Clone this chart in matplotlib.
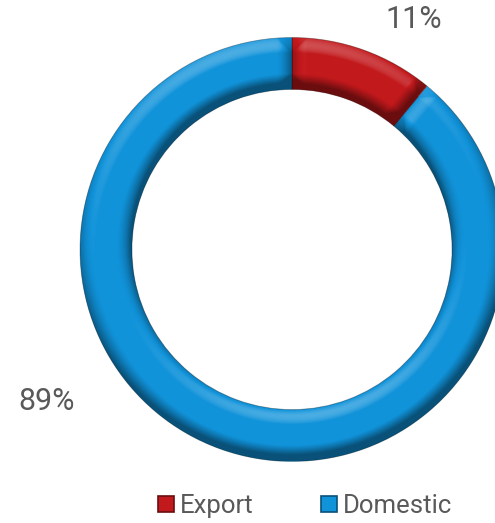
import matplotlib
matplotlib.use("Agg")
import matplotlib.pyplot as plt
import numpy as np
from matplotlib.patches import Patch, Wedge

categories = ["Export", "Domestic"]
values = [11, 89]
labels = ["11%", "89%"]
base_colors = ["#c2191c", "#1193da"]

plt.rcParams['font.family'] = ['Roboto', 'DejaVu Sans']

W, H = 495, 523
fig = plt.figure(figsize=(W / 100, H / 100), dpi=100)
fig.patch.set_facecolor("white")

cx, cy, R = 292, 249.5, 212
ax = fig.add_axes([(cx - R) / W, (H - cy - R) / H, 2 * R / W, 2 * R / H])

r_in = 0.755
r_out = 1.0

wedges, _ = ax.pie(values, radius=r_out, startangle=90, counterclock=False,
                   colors=base_colors,
                   wedgeprops=dict(width=r_out - r_in, linewidth=0.6,
                                   edgecolor=(0, 0, 0, 0.3)))

# ---- bevel / lighting overlay (decoration only) ----
n = 900
g = np.linspace(-1, 1, n)
X, Y = np.meshgrid(g, g[::-1])
Rr = np.hypot(X, Y)
TH = np.arctan2(Y, X)
wid = r_out - r_in
t = (Rr - r_in) / wid
ring = (t >= -0.02) & (t <= 1.02)

e = 0.30  # fraction of ring width that is rounded
nr = np.zeros_like(t)
zo = t > 1 - e
phi_o = np.clip((t - (1 - e)) / e, 0, 1) * (np.pi / 2)
nr = np.where(zo, np.sin(phi_o), nr)
zi = t < e
phi_i = np.clip((e - t) / e, 0, 1) * (np.pi / 2)
nr = np.where(zi, -np.sin(phi_i), nr)

# tangential bevel at slice ends (boundaries from the data)
fr = np.cumsum([0] + values) / float(sum(values))
cw = np.mod(90 - np.degrees(TH), 360)  # clockwise angle from 12 o'clock
nt = np.zeros_like(t)
e_arc = e * wid
for k in range(len(values)):
    a0, a1 = 360 * fr[k], 360 * fr[k + 1]
    inside = (cw >= a0) & (cw < a1)
    d0 = np.radians(cw - a0) * Rr
    d1 = np.radians(a1 - cw) * Rr
    s0 = np.where(inside & (d0 < e_arc), -np.sin((1 - d0 / e_arc) * np.pi / 2), 0)
    s1 = np.where(inside & (d1 < e_arc), np.sin((1 - d1 / e_arc) * np.pi / 2), 0)
    nt = nt + s0 + s1

ux, uy = np.cos(TH), np.sin(TH)
cxv, cyv = np.sin(TH), -np.cos(TH)  # clockwise tangent
nx = nr * ux + nt * cxv
ny = nr * uy + nt * cyv
mag = np.hypot(nx, ny)
scale = np.where(mag > 1, 1 / np.maximum(mag, 1e-9), 1)
nx, ny = nx * scale, ny * scale
nz = np.sqrt(np.clip(1 - nx ** 2 - ny ** 2, 0, 1))

L = np.array([-0.15, 0.75, 0.65])
L = L / np.linalg.norm(L)
val = nx * L[0] + ny * L[1] + nz * L[2] - L[2]
# ambient darkening at the inner edge
val = val - 0.2 * np.clip(1 - t / 0.12, 0, 1)

rgba = np.zeros((n, n, 4))
pos = val > 0
rgba[..., 0:3] = np.where(pos[..., None], 1.0, 0.0)
rgba[..., 3] = np.where(pos, np.clip(val * 0.7, 0, 0.45), np.clip(-val * 0.5, 0, 0.45))
rgba[~ring, 3] = 0

im = ax.imshow(rgba, extent=(-1, 1, -1, 1), interpolation="bilinear", zorder=3)
clip = Wedge((0, 0), r_out, 0, 360, width=wid, transform=ax.transData)
im.set_clip_path(clip)

ax.set_xlim(-1, 1)
ax.set_ylim(-1, 1)
ax.set_aspect("equal")
ax.axis("off")

ax.text(0.575, 1.087, labels[0], ha="center", va="center", fontsize=22,
        color="#595959", clip_on=False)
ax.text(-1.156, -0.715, labels[1], ha="center", va="center", fontsize=22,
        color="#595959", clip_on=False)


def shade(col, f):
    c = np.array(matplotlib.colors.to_rgb(col))
    return tuple(c * f)


handles = [Patch(facecolor=c, edgecolor=shade(c, 0.55), linewidth=1.2) for c in base_colors]
leg = fig.legend(handles, categories, loc="center", bbox_to_anchor=(305 / W, 1 - 506 / H),
                 ncol=2, frameon=False, fontsize=18.5, handlelength=0.62, handleheight=0.62,
                 handletextpad=0.25, columnspacing=2.6, labelcolor="#595959",
                 borderpad=0)

fig.savefig("out.png", dpi=100, facecolor="white")
